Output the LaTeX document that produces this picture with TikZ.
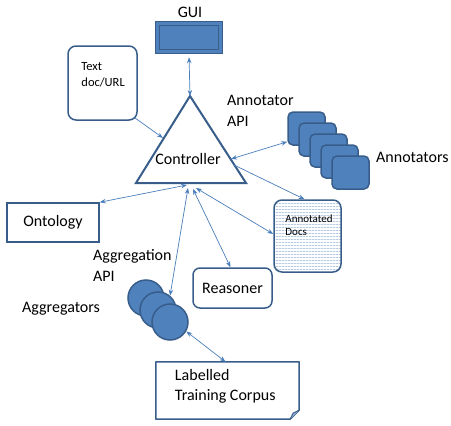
\documentclass[tikz,border=0pt]{standalone}
\usepackage{fontspec}
\setmainfont{Carlito}
\usepackage{xcolor}
\usetikzlibrary{positioning, patterns, arrows.meta}

\definecolor{boxblue}{HTML}{4F81BD}
\definecolor{edgeblue}{HTML}{385D8A}
\definecolor{lineblue}{HTML}{4A7EBB}

\pgfdeclarepatternformonly{denselines}{\pgfpointorigin}{\pgfqpoint{3pt}{3pt}}{\pgfqpoint{3pt}{3pt}}{
	\pgfpathrectangle{\pgfpointorigin}{\pgfqpoint{3.1pt}{1pt}}
	\pgfusepath{fill}
}

\tikzset{
	lbl/.style = {font=\fontsize{16}{20.5}\selectfont, inner sep=0pt, align=left},
	smalllbl/.style = {font=\fontsize{12.5}{16}\selectfont, inner sep=0pt, align=left},
	roundbox/.style = {draw=edgeblue, line width=1.5pt, rounded corners=8pt, inner sep=0pt},
	annotbox/.style = {roundbox, fill=boxblue, rounded corners=5pt, minimum width=37pt, minimum height=33pt},
	aggrdisc/.style = {circle, draw=edgeblue, line width=1.5pt, fill=boxblue, minimum size=36pt, inner sep=0pt},
	link/.style = {draw=lineblue, line width=0.7pt, >={Stealth[length=6pt, width=4.5pt]}},
}

\begin{document}
\begin{tikzpicture}[x=1pt, y=-1pt]
					\useasboundingbox (0,0) rectangle (451,426);

					\begin{scope}
						\node[lbl] (guilbl) at (190,12) {GUI};
						\node[draw=edgeblue, fill=boxblue, line width=1.5pt, minimum width=67pt, minimum height=32pt, inner sep=0pt] (gui) at (189,37.5) {};
						\draw[edgeblue, line width=1pt] ([shift={(5,5)}]gui.north west) rectangle ([shift={(-5,-5)}]gui.south east);
					\end{scope}

					% controller triangle
					\begin{scope}
						\coordinate (ctrlTop) at (190,96);
						\coordinate (ctrlLeft) at (136,183);
						\coordinate (ctrlRight) at (246,183);
						\draw[edgeblue, line width=2pt] (ctrlTop) -- (ctrlLeft) -- (ctrlRight) -- cycle;
						\node[lbl] (ctrl) at (188,159) {Controller};

						\coordinate (ctrlIn) at (163,138);
						\coordinate (ctrlAnn) at (231,159);
						\coordinate (ctrlDoc) at (234,165);
						\coordinate (ctrlOnto) at (187,185);
						\coordinate (ctrlAggr) at (188,188);
						\coordinate (ctrlReas) at (193,189);
						\coordinate (ctrlDocs) at (196,188);
					\end{scope}

					\begin{scope}
						\node[roundbox, minimum width=69pt, minimum height=74pt] (txtdoc) at (102.5,83) {};
						\node[smalllbl, anchor=north west] (txtdoclbl) at ([shift={(14,17)}]txtdoc.north west) {Text\\doc/URL};
					\end{scope}

					\begin{scope}
						\node[lbl, anchor=west] (annapi) at (227,111) {Annotator\\API};
						\foreach \i in {1,...,5} {
							\node[annotbox] (annot\i) at ({306.5+11*(\i-1)}, {128.5+11*(\i-1)}) {};
						}
						\node[lbl, anchor=west] (annotlbl) at (376,157) {Annotators};
					\end{scope}

					\begin{scope}
						\node[roundbox, pattern=denselines, pattern color=lineblue!40, minimum width=67pt, minimum height=72pt] (docs) at (307.5,236) {};
						\node[smalllbl, font=\fontsize{11}{13.5}\selectfont, anchor=north west] (docslbl) at ([shift={(12,15)}]docs.north west) {Annotated\\Docs};
					\end{scope}

					\begin{scope}
						\node[lbl, draw=edgeblue, line width=1.5pt, minimum width=92pt, minimum height=39pt] (onto) at (53,222.5) {Ontology};
						\node[lbl, roundbox, rounded corners=7pt, minimum width=79pt, minimum height=40pt] (reason) at (232.5,288) {Reasoner};
					\end{scope}

					\begin{scope}
						\node[lbl, anchor=west] (aggapi) at (93,265.5) {Aggregation\\API};
						\node[lbl, anchor=west] (aggrlbl) at (22,309) {Aggregators};
						\foreach \i in {1,2,3} {
							\node[aggrdisc] (aggr\i) at ({146+12*(\i-1)}, {298+12*(\i-1)}) {};
						}
					\end{scope}

					\begin{scope}
						\node[minimum width=143pt, minimum height=57pt, inner sep=0pt] (corpus) at (227.5,390.5) {};
						\draw[edgeblue, line width=1.5pt, line join=round] (corpus.north west) -- (corpus.north east) -- ([yshift=9pt]corpus.south east) -- ([xshift=-9pt]corpus.south east) -- (corpus.south west) -- cycle;
						\draw[edgeblue, fill=boxblue!60, line width=1pt, line join=round] ([yshift=9pt]corpus.south east) -- ([shift={(-6,-6)}]corpus.south east) -- ([xshift=-9pt]corpus.south east);
						\node[lbl, anchor=north west] (corpuslbl) at ([shift={(19,7)}]corpus.north west) {Labelled\\Training Corpus};
					\end{scope}

					\begin{scope}[link]
						\draw[<->, shorten <=3pt] (gui.south) -- (ctrlTop);
						\draw[->] ([shift={(-3,-3)}]txtdoc.south east) -- (ctrlIn);
						\draw[<->] (ctrlAnn) -- ([yshift=4pt]annot1.south west);
						\draw[->] (ctrlDoc) -- ([xshift=-3pt]docs.north);
						\draw[<->] (ctrlDocs) -- ([yshift=2pt]docs.west);
						\draw[<->] (ctrlOnto) -- (onto.north east);
						\draw[<->] (ctrlAggr) -- (aggr2.50);
						\draw[<->] (ctrlReas) -- ([xshift=-2pt]reason.north);
						\draw[<->] (aggr3.-30) -- ([xshift=-2pt]corpus.north);
					\end{scope}
				\end{tikzpicture}
\end{document}
